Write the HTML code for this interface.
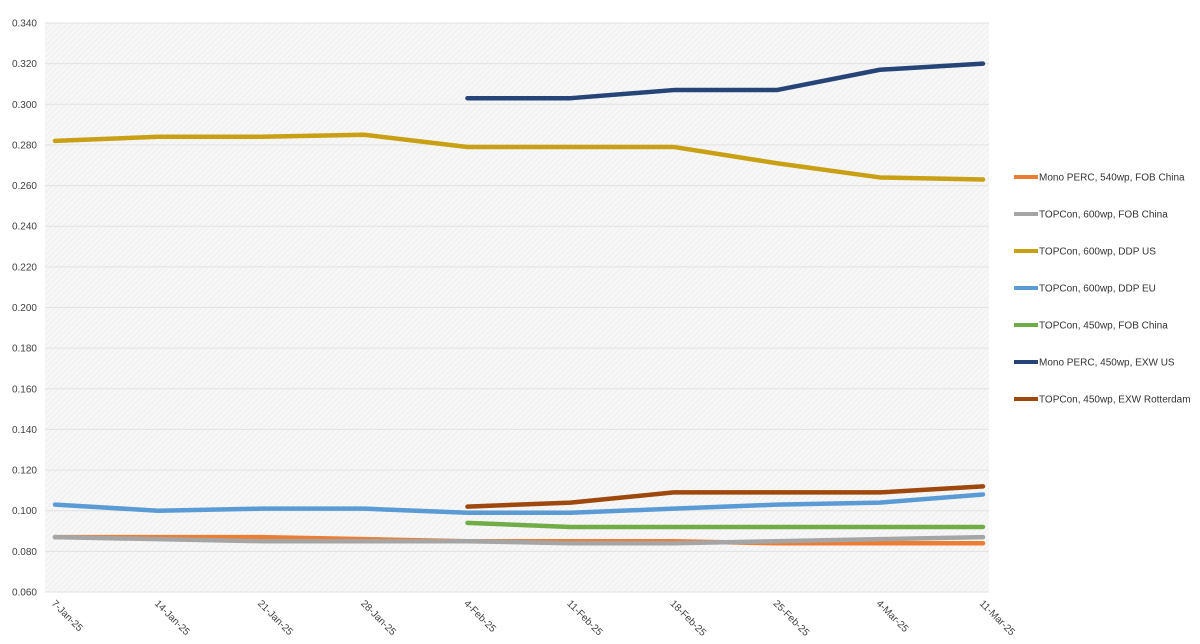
<!DOCTYPE html>
<html><head><meta charset="utf-8"><style>
html,body{margin:0;padding:0;background:#fff;}
svg{display:block;font-family:"Liberation Sans",sans-serif;}
</style></head><body>
<svg id="chart" width="1200" height="644" viewBox="0 0 1200 644">
<defs>
<pattern id="hatch" width="4" height="4" patternUnits="userSpaceOnUse" patternTransform="rotate(45)">
<rect width="4" height="4" fill="#f7f7f7"/><line x1="0" y1="0" x2="0" y2="4" stroke="#ebebeb" stroke-width="1.5"/>
</pattern>
</defs>
<rect x="45" y="23" width="944" height="569" fill="url(#hatch)"/>
<g id="grid"></g><g id="yticks"></g><g id="xticks"></g><g id="series"></g><g id="legend"></g>
</svg>
<script>
const categories=["7-Jan-25","14-Jan-25","21-Jan-25","28-Jan-25","4-Feb-25","11-Feb-25","18-Feb-25","25-Feb-25","4-Mar-25","11-Mar-25"];
const yTicks=[0.060,0.080,0.100,0.120,0.140,0.160,0.180,0.200,0.220,0.240,0.260,0.280,0.300,0.320,0.340];
const seriesNames=["Mono PERC, 540wp, FOB China","TOPCon, 600wp, FOB China","TOPCon, 600wp, DDP US","TOPCon, 600wp, DDP EU","TOPCon, 450wp, FOB China","Mono PERC, 450wp, EXW US","TOPCon, 450wp, EXW Rotterdam"];
const seriesColors=["#ed7d31","#a5a5a5","#c9a013","#5b9bd5","#70ad47","#264478","#9e480e"];
const monoPerc540Fob=[0.087,0.087,0.087,0.086,0.085,0.085,0.085,0.084,0.084,0.084];
const topcon600Fob=[0.087,0.086,0.085,0.085,0.085,0.084,0.084,0.085,0.086,0.087];
const topcon600DdpUs=[0.282,0.284,0.284,0.285,0.279,0.279,0.279,0.271,0.264,0.263];
const topcon600DdpEu=[0.103,0.100,0.101,0.101,0.099,0.099,0.101,0.103,0.104,0.108];
const topcon450Fob=[null,null,null,null,0.094,0.092,0.092,0.092,0.092,0.092];
const monoPerc450ExwUs=[null,null,null,null,0.303,0.303,0.307,0.307,0.317,0.320];
const topcon450ExwRotterdam=[null,null,null,null,0.102,0.104,0.109,0.109,0.109,0.112];
const seriesValues=[monoPerc540Fob,topcon600Fob,topcon600DdpUs,topcon600DdpEu,topcon450Fob,monoPerc450ExwUs,topcon450ExwRotterdam];

const NS="http://www.w3.org/2000/svg";
const yMin=0.06,yMax=0.34,plotTop=23,plotBot=592,x0=55,x1=983;
function yScale(v){return plotBot-(v-yMin)/(yMax-yMin)*(plotBot-plotTop);}
function xScale(i){return x0+i*(x1-x0)/(categories.length-1);}
function mk(tag,attrs,parent){const e=document.createElementNS(NS,tag);for(const k in attrs)e.setAttribute(k,attrs[k]);parent.appendChild(e);return e;}
const grid=document.getElementById('grid'),yt=document.getElementById('yticks'),xt=document.getElementById('xticks'),sg=document.getElementById('series'),lg=document.getElementById('legend');
yTicks.forEach(v=>{
  const y=yScale(v);
  const l=mk('line',{x1:45,x2:989,y1:y,y2:y,stroke:'#e2e2e2','stroke-width':1},grid);
  
  
  const t=mk('text',{x:37,y:y+3.5,'text-anchor':'end','font-size':10,fill:'#404040'},yt);
  t.textContent=v.toFixed(3);
  
  
});
categories.forEach((c,i)=>{
  const x=xScale(i);
  const t=mk('text',{x:x-4,y:604,'font-size':10,fill:'#404040',transform:`rotate(45 ${x-4} 604)`},xt);
  t.textContent=c;
  
  
});
seriesValues.forEach((vals,s)=>{
  let d='';let started=false;
  vals.forEach((v,i)=>{if(v==null){started=false;return;}d+=(started?'L':'M')+xScale(i)+' '+yScale(v)+' ';started=true;});
  const p=mk('path',{d:d,fill:'none',stroke:seriesColors[s],'stroke-width':4.5,'stroke-linecap':'round','stroke-linejoin':'round'},sg);
  
  
  const ly=177+s*37;
  const g=mk('g',{},lg);
  
  
  mk('line',{x1:1014,x2:1038,y1:ly,y2:ly,stroke:seriesColors[s],'stroke-width':4},g);
  const t=mk('text',{x:1039,y:ly+3.5,'font-size':10,fill:'#333'},g);
  t.textContent=seriesNames[s];
});
</script>
</body></html>
